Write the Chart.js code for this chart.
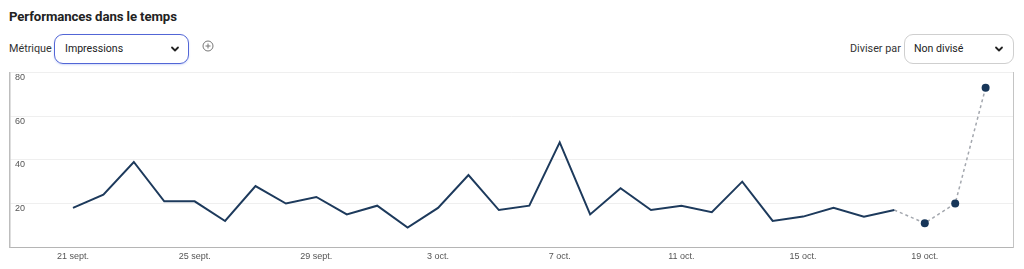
<!DOCTYPE html>
<html lang="fr">
<head>
<meta charset="utf-8">
<script src="https://cdn.jsdelivr.net/npm/chart.js@4"></script>
<style>
  html, body { margin: 0; padding: 0; background: #fff; width: 1024px; height: 269px; overflow: hidden; }
  body { position: relative; font-family: Roboto, Inter, "Noto Sans", sans-serif; color: #222; }
  .title { position: absolute; left: 9px; top: 9px; font-size: 13.2px; font-weight: 700; letter-spacing: -0.1px; color: #222; }
  .lbl { position: absolute; top: 42px; font-size: 10.8px; color: #333; }
  .sel { position: absolute; top: 34px; height: 30px; box-sizing: border-box; border-radius: 9px; font-size: 10.6px; color: #222; }
  .sel span { position: absolute; top: 7px; }
  .sel svg { position: absolute; top: 11px; }
  #s1 { left: 54px; width: 135px; border: 1.5px solid #5266d6; box-shadow: 0 1px 2px rgba(120,150,240,0.35); }
  #s2 { left: 904px; width: 110px; border: 1px solid #cfcfcf; }
  .plus { position: absolute; left: 202px; top: 40px; }
  #wrap { position: absolute; left: 0; top: 62px; width: 1024px; height: 207px; }
</style>
</head>
<body>
<div class="title">Performances dans le temps</div>
<div class="lbl" style="left:9px">Métrique</div>
<div class="sel" id="s1"><span style="left:10px">Impressions</span>
  <svg style="left:115px" width="10" height="7" viewBox="0 0 10 7"><path d="M2 1.5 L5 4.5 L8 1.5" fill="none" stroke="#222" stroke-width="1.8" stroke-linecap="round" stroke-linejoin="round"/></svg>
</div>
<svg class="plus" width="12" height="12" viewBox="0 0 12 12"><circle cx="6" cy="6" r="5" fill="none" stroke="#777" stroke-width="1"/><path d="M6 3.5 V8.5 M3.5 6 H8.5" stroke="#777" stroke-width="1"/></svg>
<div class="lbl" style="left:850px">Diviser par</div>
<div class="sel" id="s2"><span style="left:9px">Non divisé</span>
  <svg style="left:89px" width="10" height="7" viewBox="0 0 10 7"><path d="M2 1.5 L5 4.5 L8 1.5" fill="none" stroke="#222" stroke-width="1.8" stroke-linecap="round" stroke-linejoin="round"/></svg>
</div>
<div id="wrap"><canvas id="c"></canvas></div>
<script>
// Day labels, 21 sept. -> 21 oct.
const dayLabels = ['21 sept.','22 sept.','23 sept.','24 sept.','25 sept.','26 sept.','27 sept.','28 sept.','29 sept.','30 sept.',
  '1 oct.','2 oct.','3 oct.','4 oct.','5 oct.','6 oct.','7 oct.','8 oct.','9 oct.','10 oct.',
  '11 oct.','12 oct.','13 oct.','14 oct.','15 oct.','16 oct.','17 oct.','18 oct.','19 oct.','20 oct.','21 oct.'];
// Observed impressions, 21 sept. -> 18 oct.
const impressions = [18,24,39,21,21,12,28,20,23,15,19,9,18,33,17,19,48,15,27,17,19,16,30,12,14,18,14,17];
// Provisional values, 19 oct. -> 21 oct. (joined from 18 oct.)
const provisional = [11,20,73];
// X tick labels shown (every 4 days)
const xTickDays = [0,4,8,12,16,20,24,28];
const yTicks = [0,20,40,60,80];

const solidData = impressions.map((v, i) => ({x: i, y: v}));
const lastIdx = impressions.length - 1;
const dashedData = [{x: lastIdx, y: impressions[lastIdx]}].concat(
  provisional.map((v, i) => ({x: lastIdx + 1 + i, y: v})));

const tickFont = {family: '"Liberation Sans", Arial, sans-serif', size: 9};

new Chart(document.getElementById('c'), {
  type: 'line',
  data: {
    datasets: [
      {
        data: solidData,
        borderColor: '#1d3a5c',
        borderWidth: 2,
        pointRadius: 0,
        tension: 0,
        fill: false
      },
      {
        data: dashedData,
        borderColor: '#a3a7ae',
        borderWidth: 1.5,
        borderDash: [3, 3],
        pointRadius: dashedData.map((d, i) => i === 0 ? 0 : 4),
        pointBackgroundColor: '#173659',
        pointBorderColor: '#173659',
        pointBorderWidth: 0,
        tension: 0,
        fill: false
      }
    ]
  },
  options: {
    responsive: true,
    maintainAspectRatio: false,
    animation: false,
    layout: { padding: { left: 0, right: 11, top: 2, bottom: 3 } },
    plugins: { legend: { display: false }, tooltip: { enabled: false } },
    scales: {
      x: {
        type: 'linear',
        min: -2.07,
        max: 30.9,
        afterBuildTicks: s => { s.ticks = xTickDays.map(v => ({value: v})); },
        ticks: {
          callback: v => dayLabels[v],
          font: tickFont,
          color: '#555',
          padding: 4,
          maxRotation: 0,
          autoSkip: false
        },
        grid: { display: false, drawTicks: false },
        border: { display: true, color: '#b5b5b5', width: 1 }
      },
      y: {
        position: 'left',
        min: 0,
        max: 80,
        afterBuildTicks: s => { s.ticks = yTicks.map(v => ({value: v})); },
        ticks: {
          mirror: true,
          padding: 5,
          labelOffset: 5,
          font: tickFont,
          color: '#555',
          callback: v => v === 0 ? '' : String(v)
        },
        grid: { color: '#efefef', drawTicks: false, lineWidth: 1 },
        border: { display: true, color: '#bdbdbd', width: 1.5 }
      },
      yRight: {
        position: 'right',
        min: 0,
        max: 80,
        ticks: { display: false },
        grid: { display: false, drawTicks: false },
        border: { display: true, color: '#c4c4c4', width: 1 }
      }
    }
  }
});
</script>
</body>
</html>
